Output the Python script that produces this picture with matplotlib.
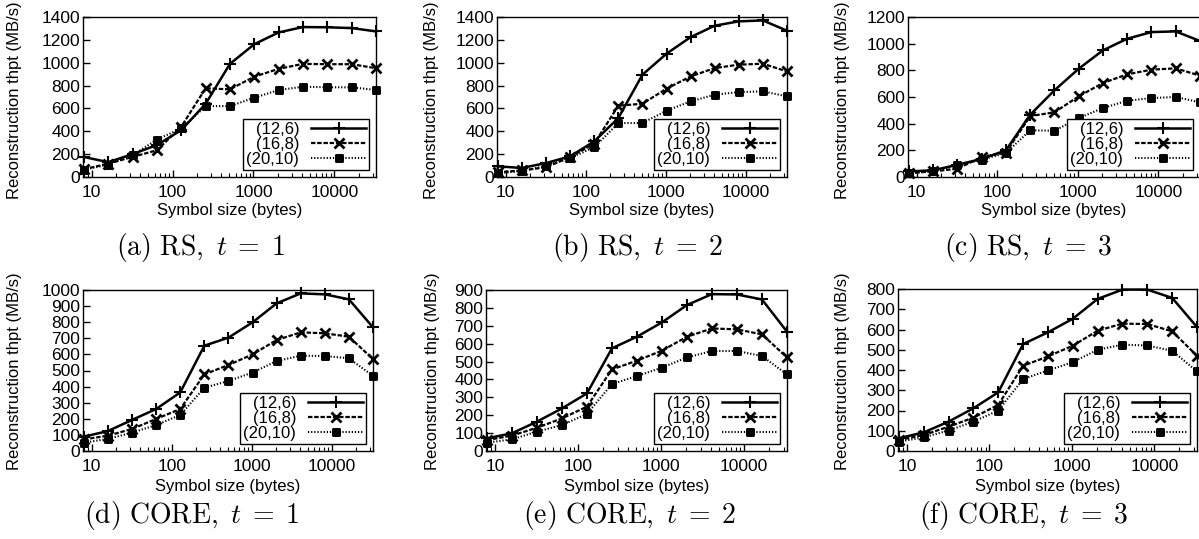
import matplotlib
matplotlib.use("Agg")
import matplotlib.pyplot as plt
from matplotlib.path import Path
from matplotlib.ticker import MultipleLocator, LogLocator, NullFormatter, FixedLocator, FixedFormatter

plt.rcParams['font.family'] = ['Liberation Sans', 'DejaVu Sans']
plt.rcParams['mathtext.fontset'] = 'cm'

# ---------------- data ----------------
symbol_sizes = [8, 16, 32, 64, 128, 256, 512, 1024, 2048, 4096, 8192, 16384, 32768]
series_labels = ['(12,6)', '(16,8)', '(20,10)']
x_tick_values = [10, 100, 1000, 10000]
x_tick_labels = ['10', '100', '1000', '10000']

rs_t1_12_6 = [175, 130, 200, 280, 410, 640, 990, 1162, 1265, 1312, 1310, 1303, 1274]
rs_t1_16_8 = [68, 117, 176, 234, 440, 776, 767, 878, 946, 990, 987, 987, 952]
rs_t1_20_10 = [64, 108, 190, 328, 425, 620, 620, 694, 761, 790, 785, 785, 761]

rs_t2_12_6 = [93, 79, 122, 181, 312, 516, 895, 1079, 1224, 1324, 1362, 1370, 1280]
rs_t2_16_8 = [41, 58, 85, 175, 292, 624, 641, 773, 880, 953, 983, 991, 924]
rs_t2_20_10 = [35, 50, 99, 166, 260, 472, 472, 580, 662, 720, 743, 749, 706]

rs_t3_12_6 = [42, 50, 92, 135, 200, 467, 650, 812, 950, 1037, 1087, 1092, 1020]
rs_t3_16_8 = [30, 42, 62, 150, 183, 457, 485, 605, 705, 770, 805, 815, 760]
rs_t3_20_10 = [30, 42, 87, 130, 180, 350, 347, 442, 517, 572, 592, 600, 560]

core_t1_12_6 = [89, 124, 193, 261, 364, 654, 704, 799, 917, 979, 973, 942, 768]
core_t1_16_8 = [72, 95, 137, 199, 261, 476, 534, 600, 689, 737, 731, 710, 571]
core_t1_20_10 = [52, 75, 114, 161, 224, 393, 435, 487, 559, 592, 590, 576, 466]

core_t2_12_6 = [71, 99, 164, 238, 322, 574, 639, 719, 816, 877, 875, 847, 667]
core_t2_16_8 = [61, 86, 130, 182, 248, 456, 505, 561, 639, 685, 680, 652, 523]
core_t2_20_10 = [47, 65, 108, 145, 207, 374, 419, 466, 523, 559, 559, 531, 428]

core_t3_12_6 = [63, 92, 145, 211, 290, 528, 586, 653, 751, 797, 797, 756, 612]
core_t3_16_8 = [54, 79, 120, 165, 228, 421, 467, 520, 594, 629, 627, 591, 470]
core_t3_20_10 = [46, 68, 101, 145, 200, 355, 398, 439, 500, 525, 521, 495, 393]

captions = [r'$\mathrm{(a)\ RS,}\ t\;=\;1$', r'$\mathrm{(b)\ RS,}\ t\;=\;2$', r'$\mathrm{(c)\ RS,}\ t\;=\;3$',
            r'$\mathrm{(d)\ CORE,}\ t\;=\;1$', r'$\mathrm{(e)\ CORE,}\ t\;=\;2$', r'$\mathrm{(f)\ CORE,}\ t\;=\;3$']
y_max = [1400, 1400, 1200, 1000, 900, 800]
y_step = [200, 200, 200, 100, 100, 100]
panel_series = [
    (rs_t1_12_6, rs_t1_16_8, rs_t1_20_10),
    (rs_t2_12_6, rs_t2_16_8, rs_t2_20_10),
    (rs_t3_12_6, rs_t3_16_8, rs_t3_20_10),
    (core_t1_12_6, core_t1_16_8, core_t1_20_10),
    (core_t2_12_6, core_t2_16_8, core_t2_20_10),
    (core_t3_12_6, core_t3_16_8, core_t3_20_10),
]

# ---------------- layout (pixels) ----------------
W, H = 1199, 539
# left, right, top, bottom
boxes = [(83, 376, 17, 177), (497, 787, 17, 177), (908, 1200, 17, 177),
         (83, 373, 290, 451), (486, 787, 290, 451), (898, 1197, 289, 451)]
ylabel_xy = [(15, 100), (432, 100), (843, 100), (15, 371), (432, 371), (842, 371)]
caption_xy = [(200, 248), (638, 248), (1028, 248), (192, 516), (630, 516), (1024, 516)]
xlabel_y = [210, 210, 210, 486, 486, 486]

# gnuplot-like boxed asterisk marker
box_star = Path(
    [(-1, -1), (1, -1), (1, 1), (-1, 1), (-1, -1),
     (-1, -1), (1, 1), (-1, 1), (1, -1), (0, -1.2), (0, 1.2), (-1.2, 0), (1.2, 0)],
    [Path.MOVETO, Path.LINETO, Path.LINETO, Path.LINETO, Path.CLOSEPOLY,
     Path.MOVETO, Path.LINETO, Path.MOVETO, Path.LINETO, Path.MOVETO, Path.LINETO,
     Path.MOVETO, Path.LINETO])

styles = [
    dict(linestyle='-', marker='+', lw=1.8, ms=8, mew=1.5),
    dict(linestyle=(0, (2.0, 0.8)), marker='x', lw=1.6, ms=6.5, mew=2.0),
    dict(linestyle=(0, (0.6, 0.9)), marker=box_star, lw=1.5, ms=6, mew=1.3,
         markerfacecolor='none'),
]

fig = plt.figure(figsize=(W / 100, H / 100), dpi=100)
FS = 12

for i in range(6):
    l, r, t, b = boxes[i]
    ax = fig.add_axes([l / W, 1 - b / H, (r - l) / W, (b - t) / H])
    for s, lab, st in zip(panel_series[i], series_labels, styles):
        ax.plot(symbol_sizes, s, color='black', label=lab, clip_on=False, **st)
    ax.set_xscale('log')
    ax.set_xlim(7.8, 32768)
    ax.set_ylim(0, y_max[i])
    ax.yaxis.set_major_locator(MultipleLocator(y_step[i]))
    ax.xaxis.set_major_locator(FixedLocator(x_tick_values))
    ax.xaxis.set_major_formatter(FixedFormatter(x_tick_labels))
    ax.xaxis.set_minor_locator(LogLocator(base=10, subs=range(2, 10)))
    ax.xaxis.set_minor_formatter(NullFormatter())
    ax.tick_params(axis='both', which='major', direction='in', length=5, width=1,
                   labelsize=12.5, top=False, right=False)
    ax.tick_params(axis='x', which='major', pad=6)
    ax.tick_params(axis='y', which='major', pad=2)
    ax.tick_params(axis='x', which='minor', direction='in', length=3, width=0.8, top=False)
    for sp in ax.spines.values():
        sp.set_linewidth(1.0)
    ax.set_xlabel('Symbol size (bytes)', fontsize=FS)
    ax.set_ylabel('Reconstruction thpt (MB/s)', fontsize=FS)
    ax.xaxis.set_label_coords(0.5, (b - xlabel_y[i]) / (b - t), transform=ax.transAxes)
    ax.xaxis.label.set_verticalalignment('center')
    yx, yy = ylabel_xy[i]
    ax.yaxis.set_label_coords((yx - l) / (r - l), (b - yy) / (b - t), transform=ax.transAxes)
    ax.yaxis.label.set_verticalalignment('center')
    leg = ax.legend(loc='lower right', fontsize=FS, markerfirst=False, handlelength=3.3,
                    handletextpad=0.7, labelspacing=0.0, borderpad=0.2, borderaxespad=0.4,
                    fancybox=False, framealpha=1, edgecolor='black', numpoints=1)
    leg.get_frame().set_linewidth(1.0)
    cx, cy = caption_xy[i]
    fig.text(cx / W, 1 - cy / H, captions[i], fontsize=20, ha='center', va='center')

fig.savefig('out.png', dpi=100)
